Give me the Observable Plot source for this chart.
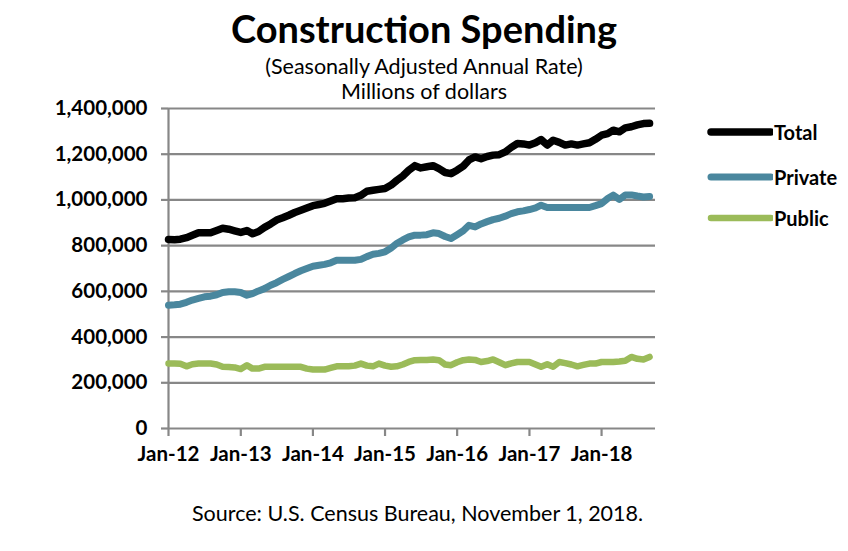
<!DOCTYPE html>
<html>
<head>
<meta charset="utf-8">
<script src="https://cdn.jsdelivr.net/npm/d3@7"></script>
<script src="https://cdn.jsdelivr.net/npm/@observablehq/plot@0.6"></script>
<style>
  html, body { margin: 0; padding: 0; background: #fff; }
  body { width: 848px; height: 551px; overflow: hidden; position: relative; font-family: Lato, "Open Sans", sans-serif; color: #000; }
  .t { position: absolute; left: 0; width: 848px; text-align: center; white-space: nowrap; line-height: 1; }
  #title { top: 9px; font-size: 38px; font-weight: 700; }
  #sub1 { top: 56px; font-size: 21.5px; }
  #sub2 { top: 81px; font-size: 21.5px; }
  #source { top: 503px; font-size: 21.5px; left: 192px; width: auto; text-align: left; }
  #chart { position: absolute; left: 0; top: 0; }
  #legend { position: absolute; left: 704px; top: 0; }
  .li { position: absolute; left: 0; display: flex; align-items: center; white-space: nowrap; font-weight: 700; font-size: 20px; }
  .li svg { margin-right: 1px; }
</style>
</head>
<body>
<div id="title" class="t">Construction Spending</div>
<div id="sub1" class="t">(Seasonally Adjusted Annual Rate)</div>
<div id="sub2" class="t">Millions of dollars</div>
<div id="chart"></div>
<div id="legend"></div>
<div id="source" class="t">Source: U.S. Census Bureau, November 1, 2018.</div>
<script>
// Monthly series, Jan 2012 – Sep 2018 (millions of dollars, SAAR)
const startMonth = "2012-01-01";
const endDomain = "2018-10-01";
const totalValues = [
  827, 826, 828, 835, 845, 856, 856, 856, 866, 876, 872, 865,
  858, 866, 852, 862, 880, 895, 912, 922, 933, 945, 955, 965,
  975, 980, 985, 995, 1005, 1005, 1008, 1010, 1020, 1038, 1042, 1046,
  1050, 1065, 1085, 1105, 1130, 1150, 1140, 1145, 1150, 1137, 1120, 1115,
  1130, 1148, 1175, 1188, 1180, 1190, 1196, 1198, 1210, 1230, 1247, 1245,
  1240, 1250, 1264, 1240, 1261, 1252, 1240, 1245, 1240, 1245, 1250, 1265,
  1283, 1290, 1305, 1298, 1315, 1320, 1328, 1334, 1335
];
const privateValues = [
  539, 541, 544, 552, 562, 569, 576, 579, 585, 595, 598, 598,
  595, 583, 590, 602, 612, 627, 638, 652, 665, 678, 690, 700,
  710, 714, 718, 725, 736, 736, 736, 736, 740, 752, 762, 766,
  773, 790, 809, 825, 838, 846, 846, 848, 856, 853, 840, 831,
  848, 865, 889, 882, 895, 905, 914, 920, 929, 940, 948, 952,
  958, 965, 977, 967, 967, 967, 967, 967, 967, 967, 967, 975,
  984, 1006, 1021, 1002, 1022, 1022, 1017, 1013, 1015
];
const publicValues = [
  284, 284, 283, 272, 281, 284, 284, 284, 280, 270, 269, 267,
  260, 277, 262, 262, 270, 270, 270, 270, 270, 270, 270, 262,
  258, 258, 258, 265, 272, 272, 272, 275, 284, 275, 272, 284,
  275, 270, 272, 280, 291, 299, 300, 300, 302, 299, 280, 277,
  290, 299, 302, 300, 291, 295, 302, 290, 277, 285, 291, 291,
  291, 280, 270, 281, 270, 291, 286, 280, 272, 278, 284, 284,
  291, 291, 291, 293, 296, 313, 305, 302, 313
];
const seriesNames = ["Total", "Private", "Public"];
const seriesColors = ["#000000", "#4a879e", "#9bbb59"];
const seriesWidths = [7.5, 7, 6.5];
const xTickDates = ["2012-01-01","2013-01-01","2014-01-01","2015-01-01","2016-01-01","2017-01-01","2018-01-01"];
const xTickLabels = ["Jan-12","Jan-13","Jan-14","Jan-15","Jan-16","Jan-17","Jan-18"];
const yTicks = [0, 200000, 400000, 600000, 800000, 1000000, 1200000, 1400000];

const months = d3.utcMonth.range(new Date(startMonth), new Date(endDomain));
const seriesValues = [totalValues, privateValues, publicValues];
const rows = [];
seriesNames.forEach((name, s) => {
  seriesValues[s].forEach((v, i) => rows.push({series: name, date: months[i], value: v * 1000}));
});
const tickDates = xTickDates.map(d => new Date(d));
const labelFor = new Map(tickDates.map((d, i) => [+d, xTickLabels[i]]));

const gridColor = "#878787";
const chart = Plot.plot({
  width: 848,
  height: 480,
  marginLeft: 168,
  marginRight: 193,
  marginTop: 108,
  marginBottom: 52,
  style: { fontFamily: "Lato, 'Open Sans', sans-serif", background: "transparent", overflow: "visible" },
  x: { type: "utc", domain: [new Date(startMonth), new Date(endDomain)] },
  y: { domain: [0, 1400000] },
  marks: [
    Plot.gridY(yTicks, { stroke: gridColor, strokeOpacity: 1, strokeWidth: 2.2 }),
    Plot.ruleX([new Date(startMonth)], { stroke: gridColor, strokeWidth: 2.2 }),
    Plot.axisY(yTicks, {
      tickFormat: d3.format(","), tickSize: 7, tickPadding: 14,
      stroke: gridColor, strokeWidth: 2.2, fontSize: 20.5, fontWeight: 700, fill: "#000", label: null
    }),
    Plot.axisX(tickDates, {
      tickFormat: d => labelFor.get(+d), tickSize: 8, tickPadding: 10,
      stroke: gridColor, strokeWidth: 2.2, fontSize: 20.5, fontWeight: 700, fill: "#000", label: null
    }),
    ...seriesNames.slice().reverse().map((name) => {
      const s = seriesNames.indexOf(name);
      return Plot.line(rows.filter(r => r.series === name), {
        x: "date", y: "value", stroke: seriesColors[s], strokeWidth: seriesWidths[s],
        strokeLinejoin: "round", strokeLinecap: "round"
      });
    })
  ]
});
document.getElementById("chart").appendChild(chart);

// Legend
const legend = document.getElementById("legend");
const legendTops = [120, 165, 206];
seriesNames.forEach((name, s) => {
  const item = document.createElement("div");
  item.className = "li";
  item.style.top = legendTops[s] + "px";
  item.innerHTML = `<svg width="69" height="12"><line x1="7" y1="6" x2="67" y2="6" stroke="${seriesColors[s]}" stroke-width="${seriesWidths[s]}" stroke-linecap="round"/></svg><span>${name}</span>`;
  legend.appendChild(item);
});
</script>
</body>
</html>
